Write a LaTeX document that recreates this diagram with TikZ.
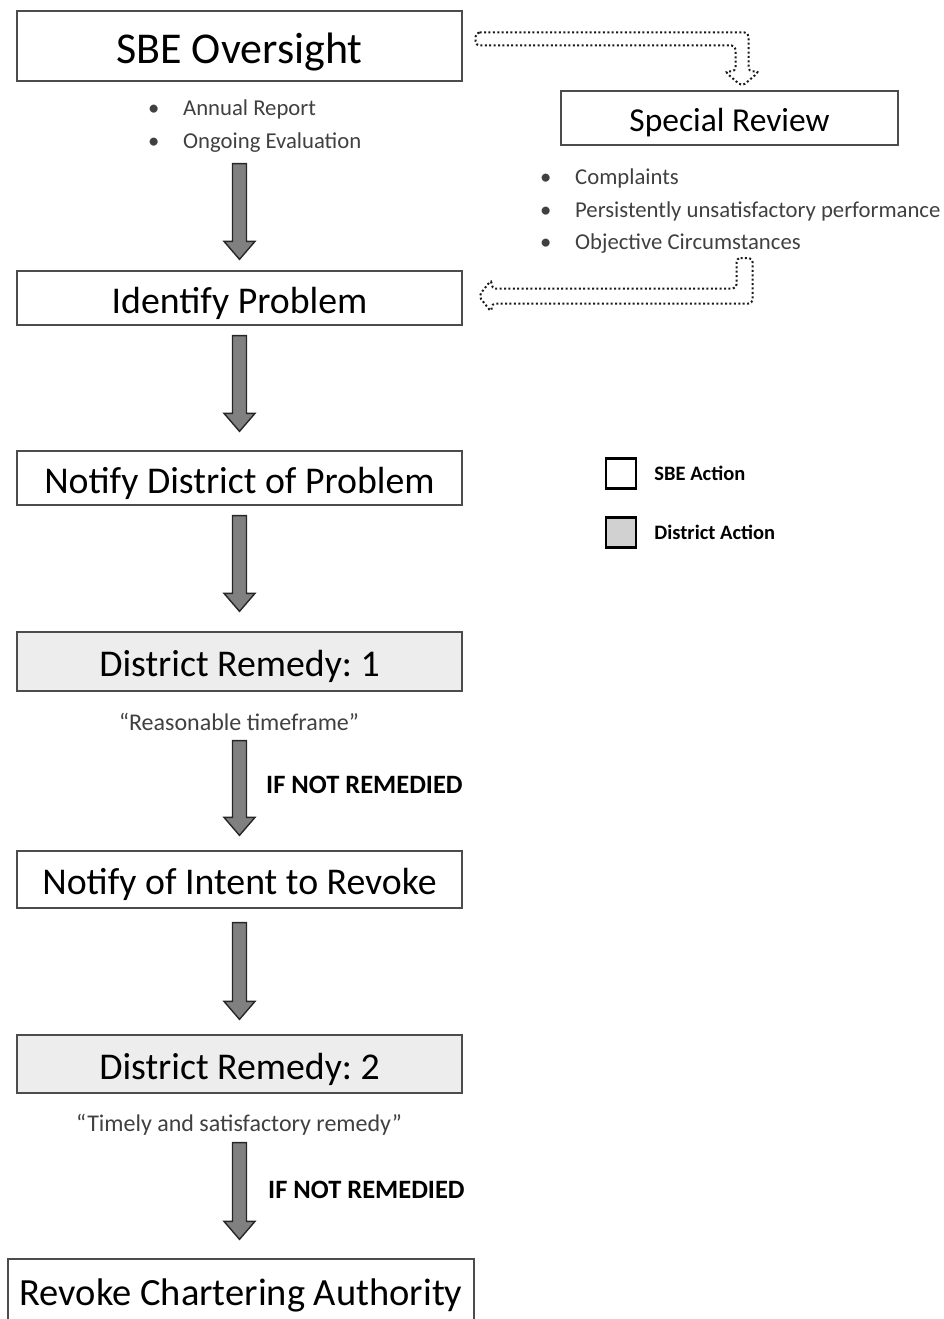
\documentclass[tikz,border=0pt]{standalone}
\usepackage{fontspec}
\setmainfont{Carlito}
\usetikzlibrary{positioning,calc}

\newcommand{\fsz}[1]{\fontsize{#1}{#1}\selectfont}
\frenchspacing

\begin{document}
\begin{tikzpicture}[x=1pt,y=1pt]
\tikzset{SBE/.style={rectangle,draw=black!70,line width=1.3pt,minimum width=445pt,font=\fsz{37.8},text height=30pt,text depth=0pt}}
\tikzset{DIS/.style={SBE,fill=black!7}}
\tikzset{B/.style={anchor=west,text=black!75,font=\fsz{22.7},inner sep=0pt}}
\tikzset{Q/.style={text=black!75,font=\fsz{24},inner sep=0pt}}
\tikzset{IF/.style={anchor=west,font=\fsz{26.5}\bfseries,inner sep=0pt}}
\tikzset{LG/.style={inner sep=0pt,font=\fsz{20.5}\bfseries}}
\tikzset{fatarr/.style={draw=black!85,line width=1.4pt,fill=black!50,
  to path={let \p1=(\tikztostart),\p2=(\tikztotarget) in
   (\x1-7pt,\y1) -- (\x1+7pt,\y1) -- (\x1+7pt,\y2+18pt) -- (\x1+15.5pt,\y2+18pt)
   -- (\x1,\y2) -- (\x1-15.5pt,\y2+18pt) -- (\x1-7pt,\y2+18pt) -- cycle}}}
\tikzset{dotR/.style={draw=black!90,line width=2pt,dash pattern=on 2pt off 2.4pt,rounded corners=4pt,
  to path={let \p1=(\tikztostart),\p2=(\tikztotarget) in
   (\x1,\y1+6.5pt) -- (\x2+6.5pt,\y1+6.5pt) -- (\x2+6.5pt,\y2+15pt) -- (\x2+17.5pt,\y2+15pt)
   -- (\x2,\y2) -- (\x2-17.5pt,\y2+15pt) -- (\x2-6.5pt,\y2+15pt) -- (\x2-6.5pt,\y1-6.5pt)
   -- (\x1,\y1-6.5pt) -- cycle}}}
\tikzset{dotL/.style={draw=black!90,line width=2pt,dash pattern=on 2pt off 2.4pt,rounded corners=4pt,
  to path={let \p1=(\tikztostart),\p2=(\tikztotarget) in
   (\x1-8pt,\y1) -- (\x1+8pt,\y1) -- (\x1+8pt,\y2-7.5pt) -- (\x2+13pt,\y2-7.5pt)
   -- (\x2+13pt,\y2-16.5pt) -- (\x2,\y2) -- (\x2+13pt,\y2+16.5pt) -- (\x2+13pt,\y2+7.5pt)
   -- (\x1-8pt,\y2+7.5pt) -- cycle}}}

  \useasboundingbox (0,0) rectangle (944,-1319);
  \clip (0,0) rectangle (944,-1319);

  \node[SBE,minimum height=70pt,font=\fsz{44},text height=36pt] (sbe) at (239.5,-46)  {SBE Oversight};
  \node[SBE,minimum height=54pt] (idp) at (239.5,-298)   {Identify Problem};
  \node[SBE,minimum height=54pt] (ndp) at (239.5,-478)   {Notify District of Problem};
  \node[DIS,minimum height=59pt] (dr1) at (239.5,-661.5) {District Remedy: 1};
  \node[SBE,minimum height=57pt] (nir) at (239.5,-879.5) {Notify of Intent to Revoke};
  \node[DIS,minimum height=58pt] (dr2) at (239.5,-1064)  {District Remedy: 2};
  \node[SBE,minimum height=64pt,minimum width=466pt,font=\fsz{38.5},text height=28pt] (rca) at (241,-1291) {Revoke Chartering Authority};

  \node[SBE,minimum height=54pt,minimum width=337pt,font=\fsz{33.5},text height=27pt] (spr) at (729.5,-118) {Special Review};

  \node[B] (ar) at (148,-109) {\makebox[35pt][l]{\textbullet}Annual Report};
  \node[B] (oe) at (148,-143) {\makebox[35pt][l]{\textbullet}Ongoing Evaluation};
  \node[B] (cp) at (540,-178) {\makebox[35pt][l]{\textbullet}Complaints};
  \node[B] (pu) at (540,-211) {\makebox[35pt][l]{\textbullet}Persistently unsatisfactory performance};
  \node[B] (oc) at (540,-244) {\makebox[35pt][l]{\textbullet}Objective Circumstances};
  \coordinate (ocb) at (744.5,-258);

  \node[Q] (q1) at (239,-722)  {“Reasonable timeframe”};
  \node[Q] (q2) at (239,-1125) {“Timely and satisfactory remedy”};
  \node[IF] (if1) at (266,-785)  {IF NOT REMEDIED};
  \node[IF] (if2) at (268,-1190) {IF NOT REMEDIED};

  \node[draw,line width=2.5pt,minimum size=30pt,inner sep=0pt] (lsbe) at (621,-473.5) {};
  \node[draw,line width=2.5pt,minimum size=30pt,inner sep=0pt,fill=black!18] (ldis) at (621,-532.5) {};
  \node[LG,right=17pt of lsbe] {SBE Action};
  \node[LG,right=17pt of ldis] {District Action};

  \draw[fatarr] ([yshift=-82pt]sbe.south) to ([yshift=11pt]idp.north);
  \draw[fatarr] ([yshift=-10pt]idp.south) to ([yshift=19pt]ndp.north);
  \draw[fatarr] ([yshift=-10pt]ndp.south) to ([yshift=20pt]dr1.north);
  \draw[fatarr] ([yshift=-49pt]dr1.south) to ([yshift=15pt]nir.north);
  \draw[fatarr] ([yshift=-14pt]nir.south) to ([yshift=15pt]dr2.north);
  \draw[fatarr] ([yshift=-49pt]dr2.south) to ([yshift=19pt]rca.north);

  \draw[dotR] ([shift={(13pt,7pt)}]sbe.east) to ([shift={(12.5pt,4pt)}]spr.north);
  \draw[dotL] (ocb) to ([shift={(16pt,2pt)}]idp.east);
\end{tikzpicture}
\end{document}
